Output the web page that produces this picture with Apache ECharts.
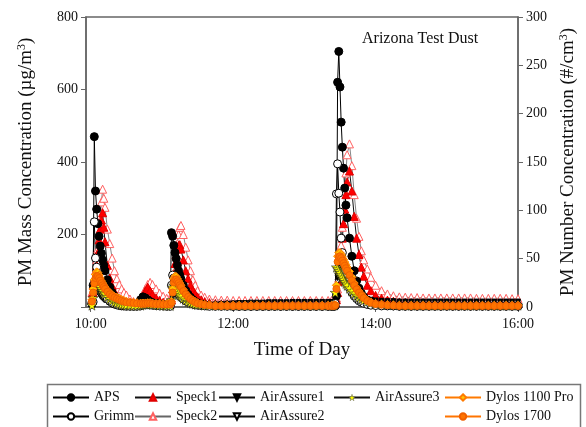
<!DOCTYPE html>
<html>
<head>
<meta charset="utf-8">
<script src="https://cdn.jsdelivr.net/npm/echarts@6/dist/echarts.min.js"></script>
<style>
html,body{margin:0;padding:0;background:#fff;}
#chart{width:586px;height:427px;}
</style>
</head>
<body>
<div id="chart"></div>
<script>
// time in minutes after 10:00
const minutes = [
  1,2,3,4,5,6,7,8,9,10,11,12,14,16,18,20,22,24,26,28,30,
  33,36,39,42,44,46,48,50,52,55,58,61,64,67,
  68,69,70,71,72,73,74,75,76,78,80,82,84,86,88,90,93,96,100,
  105,110,115,120,125,130,135,140,145,150,155,160,165,170,175,180,185,190,195,200,
  203,205,206,207,208,209,210,211,212,213,214,215,216,218,220,222,224,226,228,230,233,236,240,
  245,250,255,260,265,270,275,280,285,290,295,300,305,310,315,320,325,330,335,340,345,350,355,360
];
const xTickValues = [0,120,240,360];
const xTickLabels = ['10:00','12:00','14:00','16:00'];

const aps = [
  8,60,470,320,270,230,195,168,148,130,115,100,75,55,40,30,20,14,10,7,5,
  4,3,5,20,28,25,20,15,12,10,8,7,6,5,
  205,195,170,150,133,115,100,88,77,60,46,35,27,20,15,11,8,6,4,
  3,3,3,2,2,2,2,2,2,2,2,2,2,2,2,2,2,2,2,2,
  2,2,3,30,620,705,607,510,441,383,328,281,246,190,140,100,72,52,38,28,18,12,8,
  6,4,3,2,2,2,2,2,2,2,2,2,2,2,2,2,2,2,2,2,2,2,2,2
];
const grimm = [
  12,14,235,135,110,90,75,62,52,44,37,31,22,16,11,8,6,4,3,3,2,
  2,2,2,3,5,7,7,6,5,4,3,3,2,2,
  60,88,80,70,58,48,40,34,29,22,17,13,10,8,6,5,4,3,2,
  2,2,2,2,2,2,2,2,2,2,2,2,2,2,2,2,2,2,2,2,
  2,3,10,312,395,314,262,190,150,120,100,82,70,52,40,30,23,17,13,10,7,5,4,
  3,3,3,3,3,3,3,3,3,3,3,3,3,3,3,3,3,3,3,3,3,3,3,3
];
const speck1 = [
  20,40,60,85,115,150,185,215,240,260,220,180,115,80,58,42,30,22,16,12,10,
  8,7,8,15,30,45,55,45,35,25,18,13,10,8,
  20,50,90,120,145,160,170,172,160,130,100,78,60,46,36,28,20,15,12,
  10,9,9,8,8,8,8,8,8,8,8,8,8,8,8,8,8,8,8,8,
  8,8,10,20,40,70,110,150,190,230,270,310,345,375,320,250,190,145,110,85,60,45,32,
  24,19,16,14,13,12,12,12,11,11,11,11,11,11,11,11,11,11,10,10,10,10,10,10
];
const speck2 = [
  40,60,80,100,130,160,200,240,290,325,300,275,215,175,135,100,78,62,50,40,33,
  22,15,12,20,35,50,62,68,62,50,38,30,24,20,
  25,40,70,100,140,175,200,220,225,200,165,130,100,75,60,45,33,27,22,
  20,19,19,18,18,18,18,18,18,18,18,18,18,18,18,18,18,18,18,18,
  18,18,20,25,50,80,120,170,220,270,320,370,420,450,390,310,245,195,155,130,105,82,60,
  45,36,31,28,27,26,26,25,25,25,25,25,25,25,25,25,24,24,24,24,24,24,23,23
];
const airAssure1 = [
  5,20,45,60,55,48,42,37,32,28,25,22,17,13,10,8,6,5,4,4,3,
  3,3,3,5,8,10,10,9,8,6,5,4,4,4,
  10,30,45,42,38,34,30,27,24,20,16,13,11,9,8,7,6,6,6,
  7,8,9,10,11,11,12,12,12,13,13,13,13,14,14,14,14,14,14,14,
  14,14,30,38,80,110,120,110,100,90,82,75,68,58,50,43,37,32,28,25,22,20,18,
  17,16,16,15,15,15,15,15,15,15,15,15,15,15,15,15,15,15,15,15,15,15,15,15
];
const airAssure2 = [
  3,15,35,50,46,40,35,30,26,23,20,18,14,11,8,6,5,4,3,3,3,
  3,3,3,4,6,8,8,7,6,5,4,4,3,3,
  8,25,38,36,32,28,25,22,20,16,13,11,9,8,7,6,5,5,5,
  6,6,7,7,8,8,8,9,9,9,9,10,10,10,10,10,10,10,10,10,
  10,10,25,35,70,95,102,95,86,78,71,65,59,50,43,37,32,28,24,21,18,16,14,
  13,12,12,12,11,11,11,11,11,11,11,11,11,11,11,11,11,11,11,11,11,11,11,11
];
const airAssure3 = [
  5,25,50,70,72,68,62,56,50,45,40,36,29,23,18,14,11,9,7,6,5,
  5,4,4,5,7,9,9,8,7,6,5,5,4,4,
  20,55,60,56,50,44,39,34,30,24,19,15,12,10,8,7,6,5,5,
  5,5,5,5,5,5,5,5,5,5,5,5,5,5,5,5,5,5,5,5,
  5,5,40,110,105,100,95,88,82,76,70,65,60,52,44,38,32,27,23,19,15,12,10,
  8,7,6,6,5,5,5,5,5,5,5,5,5,5,5,5,5,5,5,5,5,5,5,5
];
const dylos1100 = [
  20,50,75,90,97,95,88,80,72,66,60,55,47,40,34,29,27,24,21,18,16,
  14,13,12,11,11,11,12,12,11,10,10,9,9,9,
  15,50,78,85,84,78,72,66,60,48,38,30,24,19,15,12,9,7,6,
  5,5,5,5,5,5,5,5,5,5,5,5,5,5,5,5,5,5,5,5,
  5,5,6,60,140,150,150,145,138,131,124,117,110,98,82,66,54,44,36,28,19,14,10,
  8,7,6,5,5,5,5,5,5,5,5,5,5,5,5,5,5,5,5,5,5,5,5,5
];
const dylos1700 = [
  15,40,65,80,86,85,80,73,66,60,55,50,42,35,30,26,23,20,17,15,13,
  12,11,10,9,9,9,10,10,9,8,8,7,7,7,
  12,40,68,76,76,71,66,60,55,44,35,28,22,17,13,10,8,6,5,
  3,3,3,3,3,3,3,3,3,3,3,3,3,3,3,3,3,3,3,3,
  3,3,5,50,125,138,140,135,128,121,114,107,100,88,74,60,49,40,32,25,17,12,8,
  6,5,4,3,3,3,3,3,3,3,3,3,3,3,3,3,3,3,3,3,3,3,3,3
];

const FONT = "'Liberation Serif','Times New Roman',serif";
const STAR = 'path://M50,0 L61,35 L98,35 L68,57 L79,91 L50,70 L21,91 L32,57 L2,35 L39,35 Z';

function pairs(vals){ return minutes.map((t,i)=>[t, vals[i]]); }
function mk(name, vals, symbol, size, fill, stroke, lineColor, extra){
  return Object.assign({
    name: name, type: 'line', data: pairs(vals),
    symbol: symbol, symbolSize: size,
    itemStyle: {color: fill, borderColor: stroke, borderWidth: 1},
    lineStyle: {color: lineColor, width: 1},
    emphasis: {disabled: true}
  }, extra || {});
}

const series = [
  mk('Speck2', speck2, 'triangle', 8, '#ffffff', '#ff6060', '#555', {lineStyle:{color:'#666', width:0.8}}),
  mk('Speck1', speck1, 'triangle', 8, '#ff0000', '#e00000', '#111'),
  mk('AirAssure2', airAssure2, 'triangle', 5, '#ffffff', '#000', '#111', {symbolRotate: 180}),
  mk('AirAssure1', airAssure1, 'triangle', 5, '#000', '#000', '#111', {symbolRotate: 180}),
  mk('APS', aps, 'circle', 8, '#000', '#000', '#000'),
  mk('Grimm', grimm, 'circle', 8, '#ffffff', '#000', '#000'),
  mk('AirAssure3', airAssure3, STAR, 10, '#ffff00', '#222', '#111', {itemStyle:{color:'#ffff00', borderColor:'#222', borderWidth:0.6}}),
  mk('Dylos 1100 Pro', dylos1100, 'diamond', 8, '#ffc800', '#ff7a00', '#ff7a00', {lineStyle:{color:'#ff7a00', width:1.5}}),
  mk('Dylos 1700', dylos1700, 'circle', 7, '#ff7400', '#f06000', '#ff7400', {lineStyle:{color:'#ff7400', width:1.5}})
];

function legendCol(left, names){
  return {
    orient: 'vertical', left: left, top: 388, padding: 0, itemGap: 0,
    itemWidth: 36, itemHeight: 8, selectedMode: false,
    data: names,
    textStyle: {fontFamily: FONT, fontSize: 14, color: '#111', lineHeight: 19, padding: [0,0,0,0]}
  };
}

const chart = echarts.init(document.getElementById('chart'), null, {renderer: 'canvas'});
chart.setOption({
  animation: false,
  backgroundColor: '#ffffff',
  grid: {left: 86, right: 65, top: 17, bottom: 120, show: true, borderColor: '#666', borderWidth: 1.5, backgroundColor: 'transparent'},
  xAxis: [{
    type: 'value', min: -4, max: 360,
    name: 'Time of Day', nameLocation: 'middle', nameGap: 34,
    nameTextStyle: {fontFamily: FONT, fontSize: 19, color: '#111'},
    axisLine: {show: true, onZero: false, lineStyle: {color: '#666', width: 1.5}},
    axisTick: {show: true, inside: false, length: 5, customValues: xTickValues, lineStyle: {color: '#666'}},
    axisLabel: {customValues: xTickValues, fontFamily: FONT, fontSize: 14, color: '#111', margin: 10,
      formatter: v => xTickLabels[xTickValues.indexOf(v)] || ''},
    splitLine: {show: false}
  }],
  yAxis: [{
    type: 'value', min: 0, max: 800, interval: 200, position: 'left',
    name: 'PM Mass Concentration (µg/m{s|3})', nameLocation: 'middle', nameGap: 50,
    nameTextStyle: {fontFamily: FONT, fontSize: 19, color: '#111', lineHeight: 20,
      rich: {s: {fontFamily: FONT, fontSize: 12, color: '#111', verticalAlign: 'top', lineHeight: 20}}},
    axisLine: {show: true, onZero: false, lineStyle: {color: '#666', width: 1.5}},
    axisTick: {show: true, inside: false, length: 5, lineStyle: {color: '#666'}},
    axisLabel: {fontFamily: FONT, fontSize: 14, color: '#111', margin: 8, formatter: v => v === 0 ? '' : String(v)},
    splitLine: {show: false}
  }, {
    type: 'value', min: 0, max: 300, interval: 50, position: 'right',
    name: 'PM Number Concentration (#/cm{s|3})', nameLocation: 'middle', nameGap: 40, nameRotate: 90,
    nameTextStyle: {fontFamily: FONT, fontSize: 19, color: '#111', lineHeight: 20,
      rich: {s: {fontFamily: FONT, fontSize: 12, color: '#111', verticalAlign: 'top', lineHeight: 20}}},
    axisLine: {show: true, onZero: false, lineStyle: {color: '#666', width: 1.5}},
    axisTick: {show: true, inside: false, length: 5, lineStyle: {color: '#666'}},
    axisLabel: {fontFamily: FONT, fontSize: 14, color: '#111', margin: 8},
    splitLine: {show: false}
  }],
  legend: [
    legendCol(52, ['APS', 'Grimm']),
    legendCol(134, ['Speck1', 'Speck2']),
    legendCol(218, ['AirAssure1', 'AirAssure2']),
    legendCol(333, [{name: 'AirAssure3', itemStyle: {color: '#ffff00', borderColor: '#555', borderWidth: 0.5}}]),
    legendCol(444, ['Dylos 1100 Pro', 'Dylos 1700'])
  ],
  graphic: [
    {type: 'rect', left: 45, top: 382, shape: {width: 533, height: 50},
     style: {fill: 'none', stroke: '#777', lineWidth: 1.5}, silent: true},
    {type: 'text', left: 362, top: 31, style: {text: 'Arizona Test Dust', font: "16px 'Liberation Serif','Times New Roman',serif", fill: '#111'}}
  ],
  series: series
});
</script>
</body>
</html>
